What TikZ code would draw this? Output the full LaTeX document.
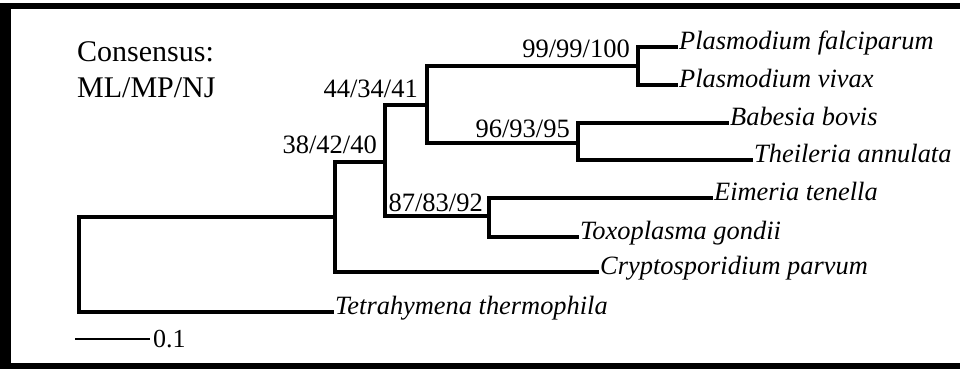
\documentclass[tikz,border=0pt]{standalone}
\usepackage{fontspec}
\setmainfont{Liberation Serif}
\begin{document}
\begin{tikzpicture}[x=1pt,y=1pt,yscale=-1,xscale=1,
    branch/.style={line width=3.3pt},
    taxon/.style={anchor=mid west,inner sep=1pt,font=\fontsize{26.4}{30}\selectfont\itshape},
    boot/.style={anchor=base east,inner sep=0pt,font=\fontsize{26.5}{30}\selectfont},
    note/.style={anchor=base west,inner sep=0pt,font=\fontsize{30}{34}\selectfont}]
    \useasboundingbox (0,0) rectangle (960,369);
    \fill (0,3) rectangle (960,9);
    \fill (0,3) rectangle (11,369);
    \fill (0,363) rectangle (960,369);
    \node[note] (cons) at (77,61) {Consensus:};
    \node[note] (meth) at (77,97) {ML/MP/NJ};
    \coordinate (root) at (79,264);
    \coordinate (crypt) at (335,217);
    \coordinate (api) at (385,162);
    \coordinate (hema) at (427,105);
    \coordinate (plas) at (638,66);
    \coordinate (piro) at (578,143);
    \coordinate (cocc) at (489,216);
    \node[taxon] (pf) at (678,47) {Plasmodium falciparum};
    \node[taxon] (pv) at (678,85) {Plasmodium vivax};
    \node[taxon] (bb) at (729,123) {Babesia bovis};
    \node[taxon] (ta) at (753,160) {Theileria annulata};
    \node[taxon] (et) at (713,198) {Eimeria tenella};
    \node[taxon] (tg) at (579,237) {Toxoplasma gondii};
    \node[taxon] (cp) at (599,272) {Cryptosporidium parvum};
    \node[taxon] (tt) at (334,312) {Tetrahymena thermophila};
    \draw[branch] (root) |- (crypt);
    \draw[branch] (root) |- (tt.mid west);
    \draw[branch] (crypt) |- (api);
    \draw[branch] (crypt) |- (cp.mid west);
    \draw[branch] (api) |- (hema);
    \draw[branch] (api) |- (cocc);
    \draw[branch] (hema) |- (plas);
    \draw[branch] (hema) |- (piro);
    \draw[branch] (plas) |- (pf.mid west);
    \draw[branch] (plas) |- (pv.mid west);
    \draw[branch] (piro) |- (bb.mid west);
    \draw[branch] (piro) |- (ta.mid west);
    \draw[branch] (cocc) |- (et.mid west);
    \draw[branch] (cocc) |- (tg.mid west);
    \node[boot] (bplas) at ([shift={(-8,-8)}]plas) {99/99/100};
    \node[boot] (bpiro) at ([shift={(-8,-6)}]piro) {96/93/95};
    \node[boot] (bcocc) at ([shift={(-6,-5)}]cocc) {87/83/92};
    \node[boot] (bhema) at ([shift={(-9,-8)}]hema) {44/34/41};
    \node[boot] (bapi) at ([shift={(-8,-9)}]api) {38/42/40};
    \coordinate (bar0) at (75,339);
    \node[anchor=west,inner sep=3pt,font=\fontsize{26}{30}\selectfont] (scale) at (150,339) {0.1};
    \draw[line width=2.5pt] (bar0) -- (scale.west);
\end{tikzpicture}
\end{document}
